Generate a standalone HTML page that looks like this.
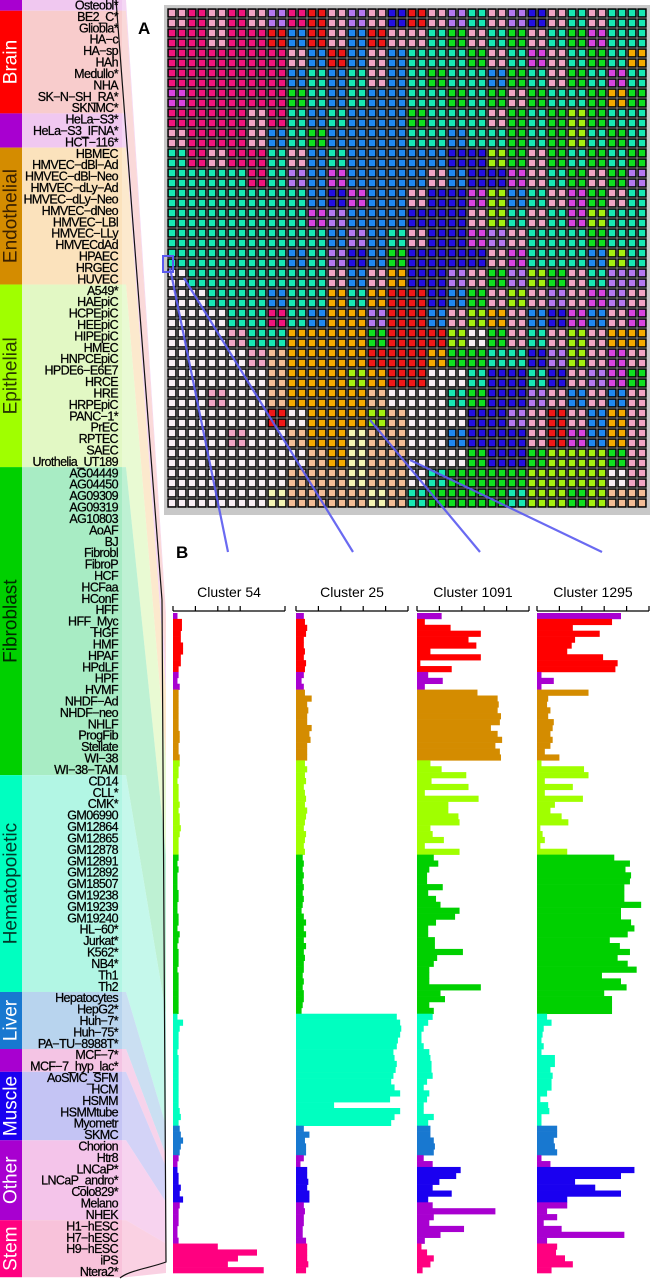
<!DOCTYPE html>
<html><head><meta charset="utf-8"><style>
html,body{margin:0;padding:0;background:#fff;}
svg{display:block;font-family:"Liberation Sans",sans-serif;}
</style></head><body>
<svg id="fig" width="650" height="1280" viewBox="0 0 650 1280" xmlns="http://www.w3.org/2000/svg">
<g id="left"></g>
<g id="heat"></g>
<g id="bars"></g>
<text x="138" y="34" font-size="17" font-weight="bold">A</text>
<text x="176" y="558" font-size="17" font-weight="bold">B</text>
</svg>
<script>
const cellTypes = ["Osteobl*","BE2_C*","Gliobla*","HA\u2212c","HA\u2212sp","HAh","Medullo*","NHA","SK\u2212N\u2212SH_RA*","SKNMC*","HeLa\u2212S3*","HeLa\u2212S3_IFNA*","HCT\u2212116*","HBMEC","HMVEC\u2212dBl\u2212Ad","HMVEC\u2212dBl\u2212Neo","HMVEC\u2212dLy\u2212Ad","HMVEC\u2212dLy\u2212Neo","HMVEC\u2212dNeo","HMVEC\u2212LBl","HMVEC\u2212LLy","HMVECdAd","HPAEC","HRGEC","HUVEC","A549*","HAEpiC","HCPEpiC","HEEpiC","HIPEpiC","HMEC","HNPCEpiC","HPDE6\u2212E6E7","HRCE","HRE","HRPEpiC","PANC\u22121*","PrEC","RPTEC","SAEC","Urothelia_UT189","AG04449","AG04450","AG09309","AG09319","AG10803","AoAF","BJ","Fibrobl","FibroP","HCF","HCFaa","HConF","HFF","HFF_Myc","HGF","HMF","HPAF","HPdLF","HPF","HVMF","NHDF\u2212Ad","NHDF\u2212neo","NHLF","ProgFib","Stellate","WI\u221238","WI\u221238\u2212TAM","CD14","CLL*","CMK*","GM06990","GM12864","GM12865","GM12878","GM12891","GM12892","GM18507","GM19238","GM19239","GM19240","HL\u221260*","Jurkat*","K562*","NB4*","Th1","Th2","Hepatocytes","HepG2*","Huh\u22127*","Huh\u221275*","PA\u2212TU\u22128988T*","MCF\u22127*","MCF\u22127_hyp_lac*","AoSMC_SFM","HCM","HSMM","HSMMtube","Myometr","SKMC","Chorion","Htr8","LNCaP*","LNCaP_andro*","Colo829*","Melano","NHEK","H1\u2212hESC","H7\u2212hESC","H9\u2212hESC","iPS","Ntera2*"];
const groupNames = ["","Brain","","Endothelial","Epithelial","Fibroblast","Hematopoietic","Liver","","Muscle","Other","Stem"];
const groupSizes = [1,9,3,12,16,27,19,5,2,6,7,5];
const groupColors = ["#a800d0","#ff0000","#a800d0","#d48c00","#a0ff00","#00d000","#00ffc0","#1878d0","#a800d0","#1a00f0","#a800d0","#ff0080"];
const groupPastels = ["#f0c8f0","#f8cccc","#f0c8f0","#fbe2bc","#e2f8c4","#a8ecc4","#b2f6e4","#b8d4ee","#f4c4e4","#c4c4f4","#f4c4ea","#f8c2da"];
const groupTextColors = ["#fff","#fff","#fff","#3a2000","#2a3a00","#002a00","#003a2a","#fff","#fff","#fff","#fff","#fff"];

const clusterNames = ["Cluster 54","Cluster 25","Cluster 1091","Cluster 1295"];
const tickFractions = [[0,0.2,0.4,0.5,0.6,1],[0,0.2,0.4,0.6,0.8,1],[0,0.2,0.4,0.6,0.8,1],[0,0.2,0.4,0.6,0.8,1]];
const c54 = [4, 8,8,7,7,9,9,7,7,5, 5,4,6, 5,5,5,5,5,5,5,6,6,5,5,6, 6,5,5,4,5,5,5,6,5,6,6,7,6,5,5,5, 5,4,5,4,4,4,5,5,4,4,5,5,4,6,5,4,5,5,5,4,5,5,5,5,5,5,5, 4,9,6,5,5,5,4,5,5,5,5,5,5,5,5,5,6,7,5, 6,7,9,7,6, 5,4, 4,5,5,7,6,9, 6,5,5,5,4,4,5, 40,75,58,49,81];
const c25 = [7, 8,10,9,7,7,8,7,9,8, 7,5,7, 8,14,10,11,10,10,14,12,13,10,10,10, 8,10,8,9,7,8,9,8,10,9,8,7,9,8,7,8, 6,7,6,7,6,7,6,7,6,5,7,9,7,9,7,9,7,8,7,7,6,7,6,7,7,6,5, 90,93,94,93,91,90,87,88,90,89,87,85,88,93,84,34,93,88,85, 7,12,8,9,9, 7,4, 10,10,11,10,12,12, 7,8,7,7,6,6,9, 10,10,10,11,9];
const c1091 = [22, 7,30,57,46,53,12,57,3,31, 10,23,7, 54,72,73,72,75,74,66,72,76,70,74,75, 12,22,44,13,46,7,55,28,28,37,38,12,14,24,7,38, 15,19,11,9,9,23,10,17,21,38,34,17,10,10,16,16,41,18,15,11,11,11,57,21,25,11,15, 14,10,6,4,4,6,11,12,13,13,14,9,6,11,9,6,6,15,10, 12,12,15,16,15, 6,14, 39,35,20,14,31,10, 14,70,15,11,42,21,7, 4,9,15,12,5];
const c1295 = [75, 67,32,56,34,31,27,59,72,70, 4,15,4, 46,10,9,12,10,15,14,12,14,12,7,20, 4,42,46,7,32,7,41,16,12,22,28,3,5,7,3,27, 69,83,79,84,83,78,78,78,93,75,75,84,87,81,65,74,83,72,81,89,58,75,80,60,67,67,67, 9,13,6,5,4,6,4,16,16,12,14,13,13,9,3,10,11,4,4, 18,18,15,16,18, 4,12, 87,75,34,52,75,27, 27,9,18,6,22,78,9, 18,17,25,32,13];
const clusterValues = [c54,c25,c1091,c1295];

const heatRows = [
"pPpPpVPRpVpNRpVTpVNpTpTT",
"PPpPPRBRpBRppTGpTGpTGMTT",
"PPPPPPpBRBpBTTTGpTMpTGTO",
"PPPPPPBTBTpBTGTTBGTpGTMT",
"MPPPPPGTBTBBTTGTGpGTTGOG",
"PPPPpPTBTBBBGTTTpGTGLGTT",
"pPPPpBTGBBBBTTBTTGTGLTGT",
"TPpPPTpBTBBBBBNNLGpGTGTG",
"TTTTPTVBMBBBBpBNNMpTGpGV",
"TTTTTTTBNMBBpNNMLBTpMGpT",
"TTTTTTTMVBBBNNNpLTpTMLTT",
"TTTTTTTTBVBTpNNMVpTTTGTT",
"TTTTTTBTVNBGNNNNpMTTTBLT",
"WTTTTTTTpBpONNVpGVLGpTVV",
"WWTTTBTTOTORRNBGpLpVpMVp",
"WWWTTPTBOOVRRBpLOpBNMBpM",
"WWWpTTOOOOGRRRLWGpTpLpOO",
"WWWWpSOOOORRROGGTTNVLpMp",
"WWWWWSOOOLORRWWTNNTNpVMG",
"WWpWWSOOOOSWWWTGNNVpBpBp",
"WWWWWRWOOOLSWWWNNVpRpBOp",
"WWWpWWSOOYSSWWBNNNpRMBOp",
"WWWWWWWSOYSSWWWGNNGLLLGp",
"WWWWWWSSSYSSWTGGGGLLLLWp",
"WWWWWYSSSSYSTGGGGTLLGLSS"];
const heatPalette = {P:"#f0157c",p:"#f0a4c4",R:"#f01818",B:"#2088f0",N:"#2410e0",T:"#18e8b4",G:"#10e020",L:"#a4f010",O:"#f4aa00",W:"#f8eef4",Y:"#f4f4b4",S:"#f2bc96",V:"#b478f0",M:"#d844e0"};

const NS = "http://www.w3.org/2000/svg";
function mk(tag, attrs, parent){const e=document.createElementNS(NS,tag);for(const k in attrs)e.setAttribute(k,attrs[k]);parent.appendChild(e);return e;}

const L = document.getElementById('left');
const pitch = 11.41, y0 = 5;
const barTop = 613, barPitch = 5.893;
function rowY(i){return y0 + pitch*i;}
let r = 0;
for (let g=0; g<groupSizes.length; g++){
  const r0=r, r1=r+groupSizes[g]-1;
  const top=Math.max(0,rowY(r0)-pitch/2), bot=rowY(r1)+pitch/2;
  const bt=barTop+barPitch*r0, bb=barTop+barPitch*(r1+1);
  const poly = mk('polygon',{points:`118,${top} 126,${top} 166,${bt} 166,${bb} 126,${bot} 118,${bot}`,fill:groupPastels[g],opacity:0.75},L);
  
  
  const bg = mk('rect',{x:22,y:top,width:100,height:bot-top,fill:groupPastels[g]},L);
  
  
  const band = mk('rect',{x:0,y:top,width:22,height:bot-top,fill:groupColors[g]},L);
  
  
  if (groupNames[g]){
    const cy=(top+bot)/2;
    const t = mk('text',{x:11,y:cy,transform:`rotate(-90 11 ${cy})`,'text-anchor':'middle','dominant-baseline':'central','font-size':19,fill:groupTextColors[g]},L);
    t.textContent = groupNames[g];
    
    
  }
  r += groupSizes[g];
}
mk('path',{d:"M116,0 C130,200 150,420 162,600 L166,1262 C150,1268 130,1270 120,1278",fill:"none",stroke:"#111","stroke-width":1.2},L);
cellTypes.forEach((n,i)=>{
  const t = mk('text',{x:118,y:rowY(i)+4.5,'text-anchor':'end','font-size':12.5,'letter-spacing':'-0.6',fill:'#000',stroke:'#000','stroke-width':0.25},L);
  t.textContent = n;
  
  
});

const H = document.getElementById('heat');
const hx=167, hy=8, cp=10;
const hbg = mk('rect',{x:hx-3,y:hy-3,width:486,height:510,fill:'#c8c8c8'},H);


for (let rr=0; rr<50; rr++){
  const row = heatRows[Math.min(24,Math.floor(rr/2))];
  for (let cc=0; cc<48; cc++){
    const code = row[Math.floor(cc/2)];
    const x=hx+cc*cp, y=hy+rr*cp;
    const o = mk('rect',{x:x+0.3,y:y+0.3,width:9.4,height:9.4,fill:'#000'},H);
    
    
    const c = mk('rect',{x:x+1.8,y:y+1.8,width:6.4,height:6.4,fill:heatPalette[code]},H);
    
    
  }
}
mk('rect',{x:163,y:256,width:10,height:16,fill:'none',stroke:'#5a5af0','stroke-width':2},H);
const zoomLines = [[170,268,228,552],[184,278,353,552],[370,420,480,552],[410,460,602,552]];
zoomLines.forEach(l=>{
  const ln = mk('line',{x1:l[0],y1:l[1],x2:l[2],y2:l[3],stroke:'#5a5af0','stroke-width':2.2,opacity:0.9},H);
  
  
});

const B = document.getElementById('bars');
const axX = [173,296,417,537], axW = 112, axY = 611;
const rowGroup = []; groupSizes.forEach((s,g)=>{for(let k=0;k<s;k++)rowGroup.push(g);});
function xScale(ci,v){return axX[ci] + axW*v/100;}
function yScale(i){return barTop + barPitch*i;}
clusterNames.forEach((name,ci)=>{
  const g = mk('g',{},B);
  
  
  const t = mk('text',{x:axX[ci]+axW/2,y:597,'text-anchor':'middle','font-size':14,fill:'#000'},g);
  t.textContent = name;
  
  
  const ax = mk('line',{x1:axX[ci],y1:axY,x2:axX[ci]+axW,y2:axY,stroke:'#000','stroke-width':1.2},g);
  
  
  tickFractions[ci].forEach(f=>{
    const tk = mk('line',{x1:axX[ci]+axW*f,y1:axY-5,x2:axX[ci]+axW*f,y2:axY,stroke:'#000','stroke-width':1.2},g);
    
    
  });
  clusterValues[ci].forEach((v,i)=>{
    const b = mk('rect',{x:axX[ci],y:yScale(i),width:xScale(ci,v)-axX[ci],height:barPitch+0.3,fill:groupColors[rowGroup[i]]},g);
    
    
  });
});
</script>
</body></html>
